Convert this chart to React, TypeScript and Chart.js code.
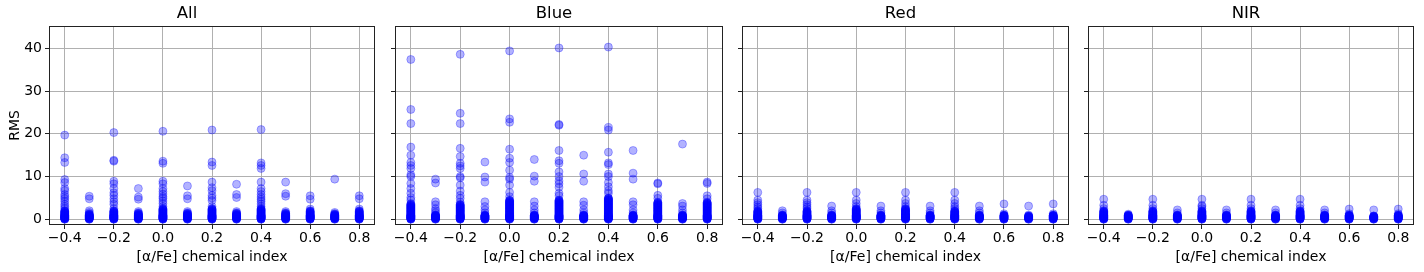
import React, { useEffect, useRef } from "react";
import { Chart, registerables } from "chart.js";

Chart.register(...registerables);

// ---------- data ----------
const xCategories = [-0.4, -0.3, -0.2, -0.1, 0.0, 0.1, 0.2, 0.3, 0.4, 0.5, 0.6, 0.7, 0.8];
const xTickValues = [-0.4, -0.2, 0.0, 0.2, 0.4, 0.6, 0.8];
const yTickValues = [0, 10, 20, 30, 40];
const panelTitles = ["All", "Blue", "Red", "NIR"];
const xAxisLabel = "[α/Fe] chemical index";
const yAxisLabel = "RMS";

// dense low-RMS clusters (explicit values)
const core08 = [0.0, 0.05, 0.1, 0.15, 0.2, 0.25, 0.3, 0.35, 0.4, 0.45, 0.5, 0.55, 0.6, 0.65, 0.7, 0.75, 0.8];
const core10 = [0.0, 0.05, 0.1, 0.15, 0.2, 0.25, 0.3, 0.35, 0.4, 0.45, 0.5, 0.55, 0.6, 0.65, 0.7, 0.75, 0.8, 0.85, 0.9, 0.95, 1.0];
const core13 = [0.0, 0.05, 0.1, 0.15, 0.2, 0.25, 0.3, 0.35, 0.4, 0.45, 0.5, 0.55, 0.6, 0.65, 0.7, 0.75, 0.8, 0.85, 0.9, 0.95, 1.0, 1.1, 1.2, 1.3];
const core15 = [0.0, 0.05, 0.1, 0.15, 0.2, 0.25, 0.3, 0.35, 0.4, 0.45, 0.5, 0.55, 0.6, 0.65, 0.7, 0.75, 0.8, 0.85, 0.9, 0.95, 1.0, 1.1, 1.2, 1.3, 1.4, 1.5];
const core20 = [0.0, 0.05, 0.1, 0.15, 0.2, 0.25, 0.3, 0.35, 0.4, 0.45, 0.5, 0.55, 0.6, 0.65, 0.7, 0.75, 0.8, 0.85, 0.9, 0.95, 1.0, 1.1, 1.2, 1.3, 1.4, 1.5, 1.6, 1.7, 1.8, 1.9, 2.0];
const core25 = [0.0, 0.05, 0.1, 0.15, 0.2, 0.25, 0.3, 0.35, 0.4, 0.45, 0.5, 0.55, 0.6, 0.65, 0.7, 0.75, 0.8, 0.85, 0.9, 0.95, 1.0, 1.1, 1.2, 1.3, 1.4, 1.5, 1.6, 1.7, 1.8, 1.9, 2.0, 2.1, 2.2, 2.3, 2.4, 2.5];
const core35 = [0.0, 0.05, 0.1, 0.15, 0.2, 0.25, 0.3, 0.35, 0.4, 0.45, 0.5, 0.55, 0.6, 0.65, 0.7, 0.75, 0.8, 0.85, 0.9, 0.95, 1.0, 1.1, 1.2, 1.3, 1.4, 1.5, 1.6, 1.7, 1.8, 1.9, 2.0, 2.1, 2.2, 2.3, 2.4, 2.5, 2.6, 2.7, 2.8, 2.9, 3.0, 3.1, 3.2, 3.3, 3.4, 3.5];
const core40 = [0.0, 0.05, 0.1, 0.15, 0.2, 0.25, 0.3, 0.35, 0.4, 0.45, 0.5, 0.55, 0.6, 0.65, 0.7, 0.75, 0.8, 0.85, 0.9, 0.95, 1.0, 1.1, 1.2, 1.3, 1.4, 1.5, 1.6, 1.7, 1.8, 1.9, 2.0, 2.1, 2.2, 2.3, 2.4, 2.5, 2.6, 2.7, 2.8, 2.9, 3.0, 3.1, 3.2, 3.3, 3.4, 3.5, 3.6, 3.7, 3.8, 3.9, 4.0];
const core45 = [0.0, 0.05, 0.1, 0.15, 0.2, 0.25, 0.3, 0.35, 0.4, 0.45, 0.5, 0.55, 0.6, 0.65, 0.7, 0.75, 0.8, 0.85, 0.9, 0.95, 1.0, 1.1, 1.2, 1.3, 1.4, 1.5, 1.6, 1.7, 1.8, 1.9, 2.0, 2.1, 2.2, 2.3, 2.4, 2.5, 2.6, 2.7, 2.8, 2.9, 3.0, 3.1, 3.2, 3.3, 3.4, 3.5, 3.6, 3.7, 3.8, 3.9, 4.0, 4.1, 4.2, 4.3, 4.4, 4.5];
const core50 = [0.0, 0.05, 0.1, 0.15, 0.2, 0.25, 0.3, 0.35, 0.4, 0.45, 0.5, 0.55, 0.6, 0.65, 0.7, 0.75, 0.8, 0.85, 0.9, 0.95, 1.0, 1.1, 1.2, 1.3, 1.4, 1.5, 1.6, 1.7, 1.8, 1.9, 2.0, 2.1, 2.2, 2.3, 2.4, 2.5, 2.6, 2.7, 2.8, 2.9, 3.0, 3.1, 3.2, 3.3, 3.4, 3.5, 3.6, 3.7, 3.8, 3.9, 4.0, 4.1, 4.2, 4.3, 4.4, 4.5, 4.6, 4.7, 4.8, 4.9, 5.0];

// per-category RMS values, one list per [α/Fe] category
const allRms: number[][] = [
  [...core20, 2.5, 3.0, 3.5, 4.2, 4.8, 5.3, 5.8, 6.7, 7.2, 8.6, 9.3, 13.3, 14.4, 19.7],
  [...core13, 1.6, 2.0, 4.8, 5.4],
  [...core20, 2.5, 3.5, 4.1, 4.8, 5.6, 6.2, 7.2, 8.3, 8.9, 13.6, 13.8, 20.3],
  [...core15, 1.8, 4.7, 5.2, 7.2],
  [...core25, 3.0, 3.7, 4.3, 4.9, 5.3, 5.9, 6.5, 7.2, 8.3, 8.9, 13.1, 13.6, 20.6],
  [...core15, 1.8, 4.8, 5.5, 7.8],
  [...core25, 3.0, 4.4, 5.0, 5.6, 6.7, 7.4, 8.7, 12.6, 13.4, 20.9],
  [...core15, 1.8, 5.1, 5.8, 8.2],
  [...core25, 3.0, 3.6, 4.2, 4.7, 5.2, 5.8, 6.5, 7.2, 8.7, 11.9, 12.6, 13.2, 21.0],
  [...core15, 1.8, 5.4, 6.0, 8.7],
  [...core20, 2.4, 4.7, 5.5],
  [...core13, 1.6, 9.4],
  [...core20, 2.4, 4.8, 5.5],
];

const blueRms: number[][] = [
  [...core35, 3.7, 4.5, 5.1, 6.1, 7.2, 8.4, 10.0, 10.4, 11.9, 12.6, 13.3, 15.0, 16.9, 22.4, 25.7, 37.4],
  [...core10, 1.5, 2.0, 2.5, 3.4, 4.1, 8.5, 9.4],
  [...core35, 4.0, 4.9, 5.6, 6.6, 8.0, 9.7, 10.0, 11.9, 12.5, 13.1, 14.7, 16.6, 22.4, 24.8, 38.6],
  [...core10, 1.5, 2.2, 3.0, 4.1, 8.7, 9.9, 13.4],
  [...core45, 5.3, 6.3, 8.0, 9.4, 9.8, 11.5, 13.3, 14.3, 16.4, 22.7, 23.5, 39.4],
  [...core10, 1.5, 2.2, 3.1, 4.1, 8.9, 10.1, 14.0],
  [...core45, 5.5, 6.1, 7.5, 8.3, 9.0, 10.0, 11.1, 13.1, 13.7, 16.1, 22.0, 22.2, 40.1],
  [...core10, 1.5, 2.2, 3.3, 4.1, 8.9, 10.6, 15.0],
  [...core50, 6.1, 6.7, 7.6, 8.6, 10.0, 10.6, 12.8, 13.2, 15.7, 20.9, 21.5, 40.3],
  [...core10, 1.5, 2.2, 3.4, 4.1, 9.4, 10.8, 16.1],
  [...core40, 4.9, 5.6, 8.3, 8.5],
  [...core10, 1.5, 2.2, 3.1, 3.7, 17.6],
  [...core40, 4.8, 5.5, 8.4, 8.7],
];

const redRms: number[][] = [
  [...core20, 2.5, 2.9, 3.4, 3.9, 4.5, 6.3],
  [...core10, 1.5, 2.0],
  [...core20, 2.5, 2.9, 3.4, 3.9, 4.5, 6.3],
  [...core10, 1.5, 2.0, 3.1],
  [...core25, 3.0, 3.7, 4.5, 6.3],
  [...core10, 1.5, 2.0, 3.1],
  [...core25, 3.0, 3.7, 4.5, 6.3],
  [...core10, 1.5, 2.0, 3.1],
  [...core20, 2.5, 3.0, 3.7, 4.5, 6.3],
  [...core10, 1.5, 2.0, 3.1],
  [...core10, 1.3, 3.6],
  [...core08, 1.0, 3.1],
  [...core10, 1.3, 3.6],
];

const nirRms: number[][] = [
  [...core20, 2.5, 3.3, 4.7],
  [...core10, 1.2],
  [...core20, 2.5, 3.3, 4.7],
  [...core10, 1.5, 2.2],
  [...core20, 2.5, 3.0, 3.3, 4.7],
  [...core10, 1.5, 2.2],
  [...core20, 2.5, 3.3, 4.7],
  [...core10, 1.5, 2.2],
  [...core20, 2.5, 3.3, 4.7],
  [...core10, 1.5, 2.2],
  [...core10, 1.3, 2.4],
  [...core08, 2.2],
  [...core10, 1.3, 2.4],
];

const panelData = [allRms, blueRms, redRms, nirRms];

// ---------- layout ----------
const FONT = "'DejaVu Sans', sans-serif";
const TICK_SIZE = 14;
const plotLefts = [50, 396, 743, 1089];
const plotWidths = [324, 326, 325, 324];
const plotTop = 27;
const plotBottom = 224;
const H = 272;

const framePlugin = {
  id: "frame",
  afterDatasetsDraw(chart: any) {
    const { ctx, chartArea } = chart;
    ctx.save();
    ctx.strokeStyle = "#222";
    ctx.lineWidth = 1;
    ctx.strokeRect(
      Math.round(chartArea.left) - 0.5,
      Math.round(chartArea.top) - 0.5,
      Math.round(chartArea.right - chartArea.left) + 1,
      Math.round(chartArea.bottom - chartArea.top) + 1
    );
    ctx.restore();
  },
};

function fmt(v: number) {
  const s = Math.abs(v) < 1e-9 ? "0.0" : v.toFixed(1);
  return s.replace("-", "\u2212");
}

function Panel({ index }: { index: number }) {
  const ref = useRef<HTMLCanvasElement | null>(null);
  const axisW = index === 0 ? 50 : 10;
  const rightPad = 10;
  const cw = plotWidths[index] + axisW + rightPad;
  const left = plotLefts[index] - axisW;

  useEffect(() => {
    if (!ref.current) return;
    const points: { x: number; y: number }[] = [];
    panelData[index].forEach((vals, ci) => {
      vals.forEach((v) => points.push({ x: xCategories[ci], y: v }));
    });
    const chart = new Chart(ref.current, {
      type: "scatter",
      data: {
        datasets: [
          {
            data: points,
            backgroundColor: "rgba(0,0,255,0.3)",
            borderColor: "rgba(0,0,255,0.3)",
            borderWidth: 1,
            pointRadius: 4,
            pointHoverRadius: 4,
          },
        ],
      },
      options: {
        responsive: false,
        animation: false,
        devicePixelRatio: 1,
        events: [],
        layout: { padding: { top: 0, left: 0, right: rightPad, bottom: 0 } },
        plugins: {
          legend: { display: false },
          tooltip: { enabled: false },
          title: {
            display: true,
            text: panelTitles[index],
            color: "#000",
            font: { family: FONT, size: 16.5, weight: "normal", lineHeight: 1.2 },
            padding: { top: 3.8, bottom: plotTop - 3.8 - 19.8 },
          },
        },
        scales: {
          x: {
            type: "linear",
            min: -0.46,
            max: 0.86,
            afterBuildTicks: (axis: any) => {
              axis.ticks = xTickValues.map((v) => ({ value: v }));
            },
            afterFit: (axis: any) => {
              axis.height = H - plotBottom;
            },
            grid: {
              color: "#b0b0b0",
              lineWidth: 1,
              drawTicks: true,
              tickLength: 5,
              tickColor: "#222",
              tickWidth: 1,
            },
            border: { display: false },
            ticks: {
              color: "#000",
              font: { family: FONT, size: TICK_SIZE },
              padding: 1,
              maxRotation: 0,
              autoSkip: false,
              callback: (v: any) => fmt(Number(v)),
            },
            title: {
              display: true,
              text: xAxisLabel,
              color: "#000",
              font: { family: FONT, size: TICK_SIZE, lineHeight: 1.2 },
              padding: { top: 0, bottom: 6 },
            },
          },
          y: {
            type: "linear",
            min: -1.1,
            max: 45,
            afterBuildTicks: (axis: any) => {
              axis.ticks = yTickValues.map((v) => ({ value: v }));
            },
            afterFit: (axis: any) => {
              axis.width = axisW;
            },
            grid: {
              color: "#b0b0b0",
              lineWidth: 1,
              drawTicks: true,
              tickLength: 5,
              tickColor: "#222",
              tickWidth: 1,
            },
            border: { display: false },
            ticks: {
              color: "#000",
              font: { family: FONT, size: TICK_SIZE },
              padding: 3,
              callback: (v: any) => (index === 0 ? String(v) : ""),
            },
            title: {
              display: index === 0,
              text: yAxisLabel,
              color: "#000",
              font: { family: FONT, size: TICK_SIZE, lineHeight: 1.2 },
              padding: { top: 7, bottom: 0 },
            },
          },
        },
      },
      plugins: [framePlugin],
    } as any);
    return () => chart.destroy();
  }, [index]);

  return (
    <canvas
      ref={ref}
      width={cw}
      height={H}
      style={{ position: "absolute", left, top: 0, width: cw, height: H }}
    />
  );
}

export default function App() {
  return (
    <div style={{ position: "absolute", left: 0, top: 0, width: 1424, height: H, background: "#fff" }}>
      {panelTitles.map((_, i) => (
        <Panel key={i} index={i} />
      ))}
    </div>
  );
}
